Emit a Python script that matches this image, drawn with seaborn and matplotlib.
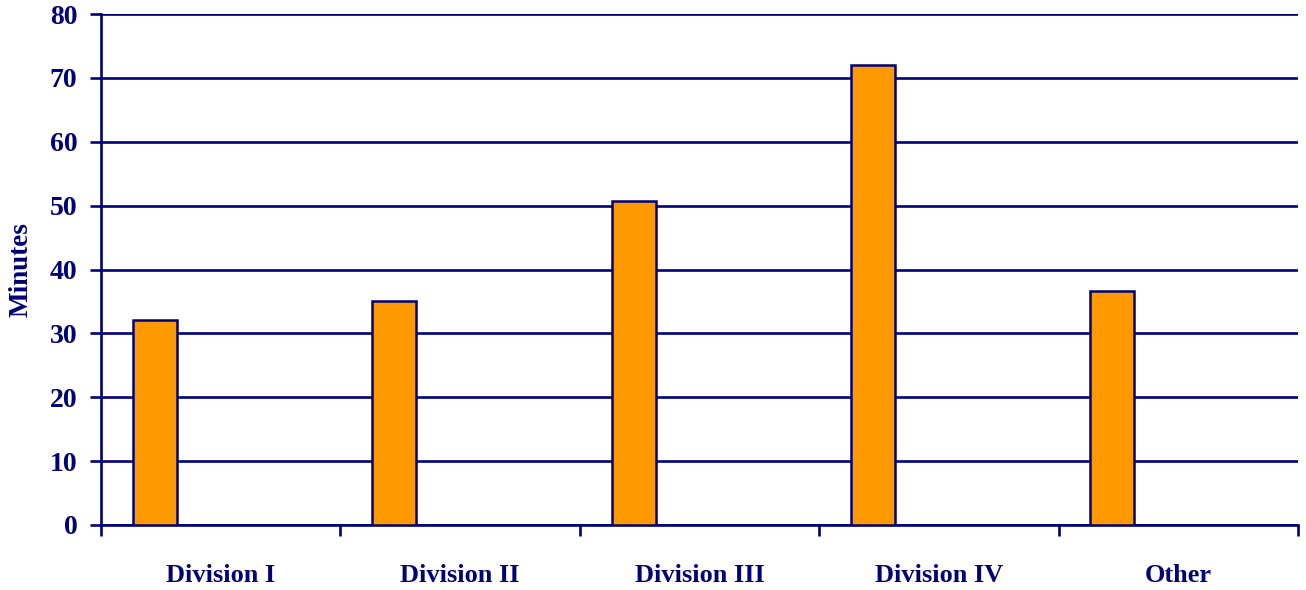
import matplotlib
matplotlib.use("Agg")
import matplotlib.pyplot as plt
import numpy as np
import pandas as pd
import seaborn as sns
from matplotlib.ticker import FixedLocator

NAVY = "#000077"
ORANGE = "#FF9900"

categories = ["Division I", "Division II", "Division III", "Division IV", "Other"]
minutes = [32.1, 35.1, 50.8, 72.0, 36.6]
# the source chart keeps three empty series next to the filled one
series_order = ["Minutes", "s2", "s3", "s4"]
y_ticks = [0, 10, 20, 30, 40, 50, 60, 70, 80]

df = pd.DataFrame({"category": categories, "minutes": minutes, "series": "Minutes"})

sns.set_theme(style="white")
plt.rcParams["font.family"] = ["Liberation Serif", "DejaVu Serif"]
plt.rcParams["font.weight"] = "bold"

fig = plt.figure(figsize=(13.06, 5.9), dpi=100)
ax = fig.add_axes([101 / 1306, 1 - 525 / 590, (1298 - 101) / 1306, (525 - 14) / 590])

sns.barplot(
    data=df,
    x="category",
    y="minutes",
    hue="series",
    hue_order=series_order,
    order=categories,
    palette=[ORANGE] * 4,
    saturation=1,
    width=0.735,
    gap=0,
    dodge=True,
    edgecolor=NAVY,
    linewidth=1.8,
    legend=False,
    ax=ax,
    zorder=3,
)

ax.set_xlim(-0.5, len(categories) - 0.5)
ax.set_ylim(0, 80)
ax.set_yticks(y_ticks)
ax.set_yticklabels([str(v) for v in y_ticks])
ax.yaxis.grid(True, color=NAVY, linewidth=1.9)
ax.set_axisbelow(True)

for side in ["top", "right"]:
    ax.spines[side].set_visible(False)
for side in ["left", "bottom"]:
    ax.spines[side].set_color(NAVY)
    ax.spines[side].set_linewidth(1.9)

ax.xaxis.set_minor_locator(FixedLocator(np.arange(len(categories) + 1) - 0.5))
ax.tick_params(axis="x", which="major", length=0, pad=28, labelsize=19, labelcolor=NAVY)
ax.tick_params(axis="x", which="minor", bottom=True, length=8, width=1.9, color=NAVY)
ax.tick_params(axis="y", which="major", left=True, length=8, width=1.9, color=NAVY,
               pad=9, labelsize=20, labelcolor=NAVY)
for lab in ax.get_xticklabels() + ax.get_yticklabels():
    lab.set_fontweight("bold")

ax.set_xlabel("")
ax.set_ylabel("Minutes", fontsize=19.5, fontweight="bold", color=NAVY, labelpad=12)

fig.savefig("out.png", dpi=100)
